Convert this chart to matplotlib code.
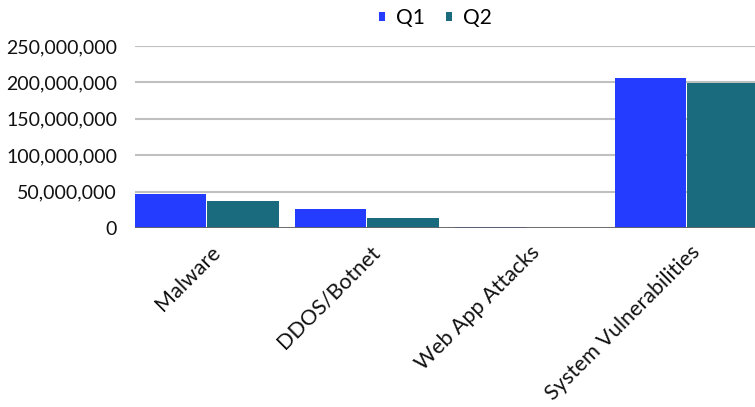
import matplotlib.pyplot as plt
import numpy as np
from matplotlib.ticker import FuncFormatter
from matplotlib.transforms import ScaledTranslation

categories = ['Malware', 'DDOS/Botnet', 'Web App Attacks', 'System Vulnerabilities']
q1 = [46_000_000, 26_500_000, 900_000, 205_500_000]
q2 = [37_000_000, 14_000_000, 500_000, 199_500_000]
yticks = [0, 50_000_000, 100_000_000, 150_000_000, 200_000_000, 250_000_000]

plt.rcParams['font.family'] = ['Lato', 'DejaVu Sans']

fig = plt.figure(figsize=(7.55, 4.07), dpi=100)
ax = fig.add_axes([0.179, 0.440, 0.821, 0.447])

x = np.arange(len(categories))
w = 0.446
ax.bar(x - 0.226, q1, width=w, color='#243cff', label='Q1', zorder=3)
ax.bar(x + 0.226, q2, width=w, color='#1a6b7d', label='Q2', zorder=3)

ax.set_xlim(-0.449, 3.426)
ax.set_ylim(0, 250_000_000)
ax.set_yticks(yticks)
ax.yaxis.set_major_formatter(FuncFormatter(lambda v, p: f'{int(v):,}'))
ax.grid(axis='y', color='#c0c0c0', lw=1.5, zorder=0)
ax.axhline(0, color='#666666', lw=2, zorder=4)

for s in ax.spines.values():
    s.set_visible(False)
ax.tick_params(axis='both', length=0, colors='#111111')
ax.tick_params(axis='y', pad=13, labelsize=14)

ax.set_xticks(x)
ax.set_xticklabels(categories, rotation=45, ha='right', rotation_mode='anchor', fontsize=15.5)
ax.tick_params(axis='x', pad=10)
shift = ScaledTranslation(3 / 100, 0, fig.dpi_scale_trans)
for lbl in ax.get_xticklabels():
    lbl.set_transform(lbl.get_transform() + shift)

ax.legend(loc='center', bbox_to_anchor=(0.484, 1.154), ncol=2, frameon=False,
          fontsize=15, handlelength=0.33, handleheight=0.33, handletextpad=0.5,
          columnspacing=1.0)

fig.savefig('out.png', dpi=100)
